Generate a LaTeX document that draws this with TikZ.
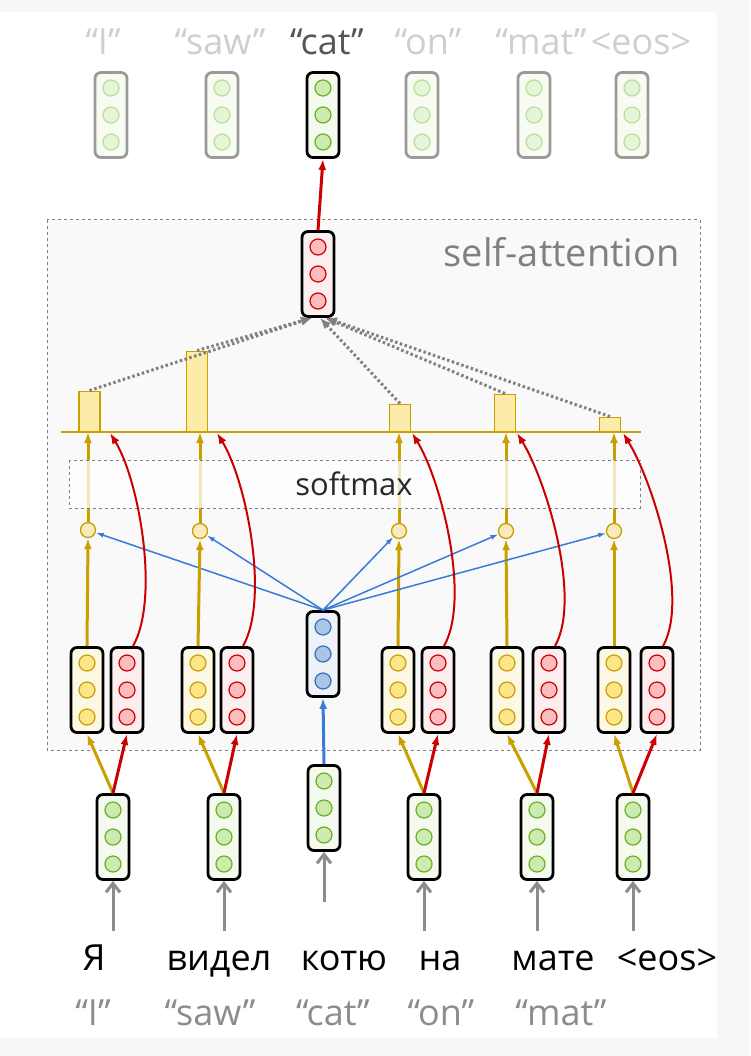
\documentclass[tikz,border=0pt]{standalone}
\usepackage{fontspec}
\setmainfont{Open Sans}
\usetikzlibrary{arrows.meta}

\definecolor{gold}{HTML}{C9A000}
\definecolor{barfill}{HTML}{FDEBA8}
\definecolor{dred}{HTML}{CC0000}
\definecolor{lblue}{HTML}{3A7BD5}
\definecolor{pagegray}{HTML}{F7F7F7}
\definecolor{regionfill}{HTML}{F9F9F9}
\definecolor{fadedtext}{HTML}{CFCFCF}
\definecolor{glosstext}{HTML}{8C8C8C}

\newcommand{\wvec}[4]{%
  \node[vecbox,#3] (#1) at (#2) {};
  \foreach \k in {-27,0,27}
    \node[vecdot,#4] at ([yshift=\k pt]#1.center) {};
}

\begin{document}
\begin{tikzpicture}[x=1pt,y=-1pt,
    vecbox/.style={draw, line width=2.8pt, rounded corners=6pt, minimum width=32pt, minimum height=85pt, inner sep=0pt},
    vecdot/.style={circle, minimum size=16pt, inner sep=0pt, line width=1.2pt},
    greenbox/.style={fill={rgb,255:red,244;green,250;blue,238}},
    greendot/.style={draw={rgb,255:red,106;green,176;blue,35}, fill={rgb,255:red,205;green,235;blue,176}},
    fadedbox/.style={draw={rgb,255:red,154;green,154;blue,154}, fill={rgb,255:red,247;green,251;blue,242}},
    fadeddot/.style={draw={rgb,255:red,184;green,224;blue,154}, fill={rgb,255:red,230;green,244;blue,216}},
    keybox/.style={fill={rgb,255:red,253;green,248;blue,228}},
    keydot/.style={draw=gold, fill={rgb,255:red,253;green,230;blue,138}},
    valbox/.style={fill={rgb,255:red,253;green,239;blue,239}},
    valdot/.style={draw=dred, fill={rgb,255:red,251;green,189;blue,189}},
    qbox/.style={fill={rgb,255:red,237;green,242;blue,248}},
    qdot/.style={draw={rgb,255:red,58;green,110;blue,181}, fill={rgb,255:red,169;green,197;blue,232}},
    bar/.style={draw=gold, fill=barfill, line width=1.5pt, minimum width=21pt, inner sep=0pt, anchor=south},
    score/.style={circle, draw=gold, fill={rgb,255:red,248;green,234;blue,192}, line width=1.3pt, minimum size=15pt, inner sep=0pt},
    goldarrow/.style={draw=gold, line width=3pt, -{Latex[length=11pt,width=8pt]}},
    redarrow/.style={draw=dred, line width=3pt, -{Latex[length=11pt,width=8pt]}},
    redcurve/.style={draw=dred, line width=2pt, -{Latex[length=11pt,width=8pt]}},
    bluearrow/.style={draw=lblue, line width=1.5pt, -{Latex[length=8pt,width=5pt]}},
    bluethick/.style={draw=lblue, line width=3pt, -{Latex[length=11pt,width=8pt]}},
    inarrow/.style={draw=glosstext, line width=3pt, -{Straight Barb[length=9pt,width=14pt]}},
    attnarrow/.style={draw=gray, line width=3pt, dash pattern=on 2.5pt off 2.5pt, -{Latex[length=11pt,width=9pt]}},
    word/.style={font=\fontsize{36}{40}\selectfont, anchor=base, inner sep=0pt}
  ]
\useasboundingbox (0,0) rectangle (750,1056);
\fill[pagegray] (0,0) rectangle (750,1056);
\fill[white] (0,12) rectangle (717,1038);

\draw[gray, dashed, fill=regionfill, line width=1pt] (47,220) rectangle (700,750);
\node[font=\fontsize{38}{42}\selectfont, text=gray, anchor=base east, inner sep=0pt] (selfatt) at (680,267) {self-attention};

\wvec{o1}{111,115}{fadedbox}{fadeddot}
\wvec{o2}{222,115}{fadedbox}{fadeddot}
\wvec{o3}{323,115}{greenbox}{greendot}
\wvec{o4}{422,115}{fadedbox}{fadeddot}
\wvec{o5}{534,115}{fadedbox}{fadeddot}
\wvec{o6}{632,115}{fadedbox}{fadeddot}

\node[word, text=fadedtext] (t1) at (103,55) {“I”};
\node[word, text=fadedtext] (t2) at (220,55) {“saw”};
\node[word, text={rgb,255:red,85;green,85;blue,85}] (t3) at (327,55) {“cat”};
\node[word, text=fadedtext] (t4) at (428,55) {“on”};
\node[word, text=fadedtext] (t5) at (541,55) {“mat”};
\node[word, text=fadedtext] (t6) at (641,55) {<eos>};

\wvec{att}{318,274}{valbox}{valdot}
\draw[redarrow] (att.north) -- (o3.south);

\draw[gold, line width=2pt] (61,432) coordinate (bl) -- (641,432) coordinate (br);
\node[bar, minimum height=40pt] (b1) at (89.5,432) {};
\node[bar, minimum height=80pt] (b2) at (197,432) {};
\node[bar, minimum height=27pt] (b3) at (400,432) {};
\node[bar, minimum height=37pt] (b4) at (505,432) {};
\node[bar, minimum height=14pt] (b5) at (610,432) {};

\draw[attnarrow] (b1.north) -- ([xshift=-6pt]att.south);
\draw[attnarrow] (b2.north) -- ([xshift=-6pt]att.south);
\draw[attnarrow] (b3.north) -- ([xshift=2pt]att.south);
\draw[attnarrow] (b4.north) -- ([xshift=7pt]att.south);
\draw[attnarrow] (b5.north) -- ([xshift=8pt]att.south);

\wvec{k1}{87,690}{keybox}{keydot}
\wvec{v1}{127,690}{valbox}{valdot}
\wvec{k2}{198,690}{keybox}{keydot}
\wvec{v2}{237,690}{valbox}{valdot}
\wvec{q}{323,654}{qbox}{qdot}
\wvec{k3}{398,690}{keybox}{keydot}
\wvec{v3}{438,690}{valbox}{valdot}
\wvec{k4}{507,690}{keybox}{keydot}
\wvec{v4}{549,690}{valbox}{valdot}
\wvec{k5}{614,690}{keybox}{keydot}
\wvec{v5}{657,690}{valbox}{valdot}

\node[score] (s1) at (88,530) {};
\node[score] (s2) at (200,531) {};
\node[score] (s3) at (399,531) {};
\node[score] (s4) at (506,531) {};
\node[score] (s5) at (614,531) {};

\foreach \i in {1,...,5} {
  \draw[goldarrow] (k\i.north) -- (s\i.south);
  \draw[goldarrow] (s\i.north) -- (s\i.north |- bl);
  \draw[bluearrow] (q.north) -- (s\i);
}

\draw[gray, dashed, line width=1pt, fill=white, fill opacity=0.75] (69,460) rectangle (640,508);
\node[font=\fontsize{31}{34}\selectfont, text={rgb,255:red,40;green,40;blue,40}, anchor=base, inner sep=0pt] (softmax) at (354,495) {softmax};

\draw[redcurve] ([xshift=6pt]v1.north) .. controls +(27,-48) and +(29,47) .. (110,433);
\draw[redcurve] ([xshift=6pt]v2.north) .. controls +(27,-48) and +(29,47) .. (217,433);
\draw[redcurve] ([xshift=6pt]v3.north) .. controls +(27,-48) and +(29,47) .. (412,433);
\draw[redcurve] ([xshift=6pt]v4.north) .. controls +(27,-48) and +(29,47) .. (517,433);
\draw[redcurve] ([xshift=6pt]v5.north) .. controls +(27,-48) and +(29,47) .. (623,433);

\wvec{e1}{113,837}{greenbox}{greendot}
\wvec{e2}{224,837}{greenbox}{greendot}
\wvec{e3}{324,808}{greenbox}{greendot}
\wvec{e4}{424,837}{greenbox}{greendot}
\wvec{e5}{537,837}{greenbox}{greendot}
\wvec{e6}{633,837}{greenbox}{greendot}

\draw[goldarrow] (e1.north) -- (k1.south);
\draw[redarrow] (e1.north) -- (v1.south);
\draw[goldarrow] (e2.north) -- (k2.south);
\draw[redarrow] (e2.north) -- (v2.south);
\draw[bluethick] (e3.north) -- (q.south);
\draw[goldarrow] (e4.north) -- (k3.south);
\draw[redarrow] (e4.north) -- (v3.south);
\draw[goldarrow] (e5.north) -- (k4.south);
\draw[redarrow] (e5.north) -- (v4.south);
\draw[goldarrow] (e6.north) -- (k5.south);
\draw[redarrow] (e6.north) -- (v5.south);

\coordinate (a1) at (113,931);
\coordinate (a2) at (224,931);
\coordinate (a3) at (324,902);
\coordinate (a4) at (424,931);
\coordinate (a5) at (537,931);
\coordinate (a6) at (633,931);
\foreach \i in {1,...,6}
  \draw[inarrow] (a\i) -- (e\i.south);

\node[word] (w1) at (94,970) {Я};
\node[word] (w2) at (219,970) {видел};
\node[word] (w3) at (344,970) {котю};
\node[word] (w4) at (440,970) {на};
\node[word] (w5) at (553,970) {мате};
\node[word] (w6) at (667,970) {<eos>};

\node[word, text=glosstext] (g1) at (93,1025) {“I”};
\node[word, text=glosstext] (g2) at (210,1025) {“saw”};
\node[word, text=glosstext] (g3) at (333,1025) {“cat”};
\node[word, text=glosstext] (g4) at (441,1025) {“on”};
\node[word, text=glosstext] (g5) at (561,1025) {“mat”};
\end{tikzpicture}
\end{document}
